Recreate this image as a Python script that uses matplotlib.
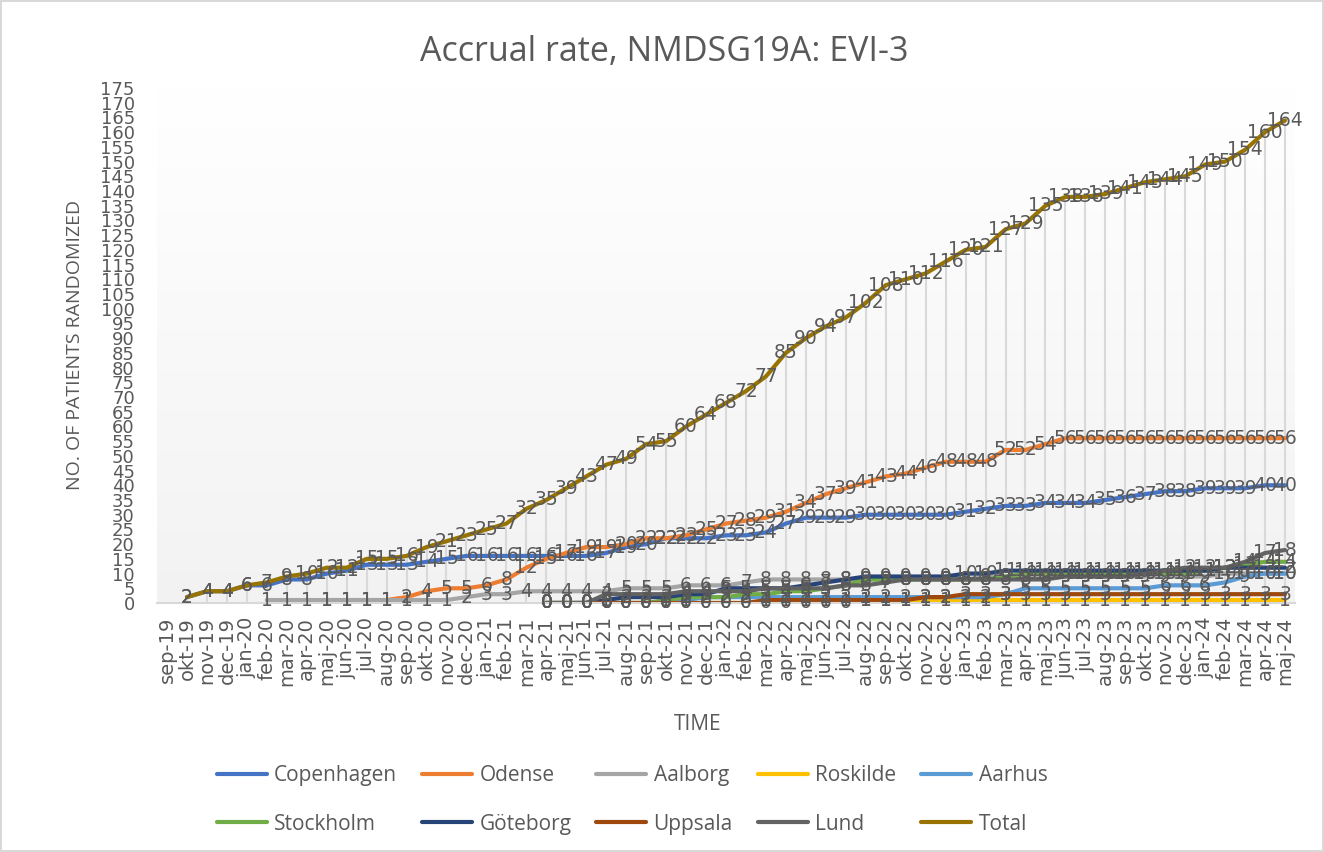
import numpy as np
import matplotlib
matplotlib.use('Agg')
import matplotlib.pyplot as plt

months = ['sep-19', 'okt-19', 'nov-19', 'dec-19',
          'jan-20', 'feb-20', 'mar-20', 'apr-20', 'maj-20', 'jun-20', 'jul-20', 'aug-20', 'sep-20', 'okt-20', 'nov-20', 'dec-20',
          'jan-21', 'feb-21', 'mar-21', 'apr-21', 'maj-21', 'jun-21', 'jul-21', 'aug-21', 'sep-21', 'okt-21', 'nov-21', 'dec-21',
          'jan-22', 'feb-22', 'mar-22', 'apr-22', 'maj-22', 'jun-22', 'jul-22', 'aug-22', 'sep-22', 'okt-22', 'nov-22', 'dec-22',
          'jan-23', 'feb-23', 'mar-23', 'apr-23', 'maj-23', 'jun-23', 'jul-23', 'aug-23', 'sep-23', 'okt-23', 'nov-23', 'dec-23',
          'jan-24', 'feb-24', 'mar-24', 'apr-24', 'maj-24']

N = None
copenhagen = [N, 2, 4, 4, 6, 6, 8, 8, 10, 11, 13, 13, 13, 14, 15, 16, 16, 16, 16, 16, 16, 16, 17, 19, 20, 22, 22, 22,
              23, 23, 24, 27, 29, 29, 29, 30, 30, 30, 30, 30, 31, 32, 33, 33, 34, 34, 34, 35, 36, 37, 38, 38, 39, 39, 39, 40, 40]
odense = [N, N, N, N, N, N, N, N, 1, 1, 1, 1, 2, 4, 5, 5, 6, 8, 12, 15, 17, 19, 19, 20, 22, 22, 23, 25,
          27, 28, 29, 31, 34, 37, 39, 41, 43, 44, 46, 48, 48, 48, 52, 52, 54, 56, 56, 56, 56, 56, 56, 56, 56, 56, 56, 56, 56]
aalborg = [N, N, N, N, N, 1, 1, 1, 1, 1, 1, 1, 1, 1, 1, 2, 3, 3, 4, 4, 4, 4, 4, 5, 5, 5, 6, 6,
           6, 7, 8, 8, 8, 8, 8, 8, 8, 8, 8, 8, 8, 9, 9, 9, 9, 9, 9, 9, 9, 9, 9, 9, 9, 10, 10, 10, 10]
roskilde = [N] * 19 + [0, 0, 0, 0, 0, 0, 0, 0, 0, 0, 0, 0, 0, 0, 0, 0, 1, 1, 1, 1, 1, 1, 1, 1, 1, 1, 1,
                       1, 1, 1, 1, 1, 1, 1, 1, 1, 1, 1]
aarhus = [N] * 19 + [0, 0, 0, 0, 0, 0, 0, 1, 2, 2, 2, 2, 2, 2, 2, 2, 2, 2, 2, 2, 2, 2, 2, 3, 5, 5, 5,
                     5, 5, 5, 5, 6, 6, 6, 7, 9, 10, 10]
stockholm = [N] * 19 + [0, 0, 0, 0, 0, 0, 1, 2, 2, 2, 3, 3, 4, 4, 5, 6, 8, 8, 8, 8, 8, 8, 8, 9, 10, 10, 10,
                        10, 10, 10, 10, 10, 10, 11, 12, 13, 14, 14]
goteborg = [N] * 19 + [0, 0, 0, 1, 2, 2, 2, 3, 3, 5, 5, 5, 5, 6, 7, 8, 9, 9, 9, 9, 9, 10, 10, 11, 11, 11, 11,
                       11, 11, 11, 11, 11, 11, 11, 12, 12, 12, 12]
uppsala = [N] * 19 + [0, 0, 0, 0, 0, 0, 0, 0, 0, 0, 0, 1, 1, 1, 1, 1, 1, 1, 1, 2, 2, 3, 3, 3, 3, 3, 3,
                      3, 3, 3, 3, 3, 3, 3, 3, 3, 3, 3]
lund = [N] * 19 + [0, 0, 0, 3, 3, 3, 3, 4, 4, 4, 4, 5, 5, 5, 5, 6, 6, 7, 8, 8, 8, 8, 8, 8, 8, 8, 9,
                   9, 9, 9, 10, 11, 12, 12, 12, 14, 17, 18]
total = [N, 2, 4, 4, 6, 7, 9, 10, 12, 12, 15, 15, 16, 19, 21, 23, 25, 27, 32, 35, 39, 43, 47, 49, 54, 55, 60, 64,
         68, 72, 77, 85, 90, 94, 97, 102, 108, 110, 112, 116, 120, 121, 127, 129, 135, 138, 138, 139, 141, 143, 144, 145,
         149, 150, 154, 160, 164]

series = [('Copenhagen', copenhagen, '#4472C4'), ('Odense', odense, '#ED7D31'), ('Aalborg', aalborg, '#A5A5A5'),
          ('Roskilde', roskilde, '#FFC000'), ('Aarhus', aarhus, '#5B9BD5'), ('Stockholm', stockholm, '#70AD47'),
          ('Göteborg', goteborg, '#264478'), ('Uppsala', uppsala, '#9E480E'), ('Lund', lund, '#636363'),
          ('Total', total, '#997300')]
for name, vals, col in series:
    assert len(vals) == len(months), name

txt = '#595959'
fig = plt.figure(figsize=(13.24, 8.52), dpi=100)
fig.patch.set_edgecolor('#D9D9D9')
fig.patch.set_linewidth(1.5)
ax = fig.add_axes([157/1324, 1-603/852, (1295-157)/1324, (603-88)/852])

x = np.arange(len(months))
# plot area gradient
grad = np.linspace(1.0, 0.95, 256).reshape(-1, 1)
ax.imshow(np.dstack([grad, grad, grad]), extent=[-0.5, len(months)-0.5, 0, 175], aspect='auto', zorder=0)

tot = np.array([np.nan if v is None else v for v in total], dtype=float)
ok = ~np.isnan(tot)
ax.vlines(x[ok], 0, tot[ok], color='#D9D9D9', lw=1.5, zorder=1)

handles = {}
for name, vals, col in series:
    y = np.array([np.nan if v is None else v for v in vals], dtype=float)
    h, = ax.plot(x, y, color=col, lw=3, solid_joinstyle='round', solid_capstyle='round', zorder=2)
    handles[name] = h
    for xi, yi in zip(x, y):
        if not np.isnan(yi):
            ax.text(xi, yi, '%d' % yi, ha='center', va='center', fontsize=13.5, color=txt,
                    family='DejaVu Sans', zorder=5)

ax.set_xlim(-0.5, len(months)-0.5)
ax.set_ylim(0, 175)
ax.set_yticks(range(0, 176, 5))
ax.set_xticks(x)
ax.set_xticklabels(months, rotation=90, fontsize=14, color=txt, family='DejaVu Sans')
ax.tick_params(axis='y', length=0, pad=16, labelsize=13, labelcolor=txt)
ax.tick_params(axis='x', length=0, pad=10)
for s in ['top', 'right', 'left']:
    ax.spines[s].set_visible(False)
ax.spines['bottom'].set_color('#D9D9D9')
ax.spines['bottom'].set_linewidth(1.5)

fig.text(0.502, 1-52/852, 'Accrual rate, NMDSG19A: EVI-3', ha='center', va='center', fontsize=24.5,
         color=txt, family='Open Sans')
fig.text(75/1324, 1-345/852, 'NO. OF PATIENTS RANDOMIZED', rotation=90, ha='center', va='center',
         fontsize=14, color=txt, family='Open Sans')
fig.text(698/1324, 1-724/852, 'TIME', ha='center', va='center', fontsize=15, color=txt, family='Open Sans')

order = ['Copenhagen', 'Stockholm', 'Odense', 'Göteborg', 'Aalborg', 'Uppsala', 'Roskilde', 'Lund', 'Aarhus', 'Total']
leg = fig.legend([handles[n] for n in order], order, loc='center', bbox_to_anchor=(632/1324, 1-800/852), ncol=5,
                 frameon=False, prop={'family': 'Open Sans', 'size': 15}, handlelength=2.4,
                 columnspacing=1.2, handletextpad=0.35, labelspacing=1.3)
for t in leg.get_texts():
    t.set_color(txt)

fig.savefig('out.png', dpi=100)
